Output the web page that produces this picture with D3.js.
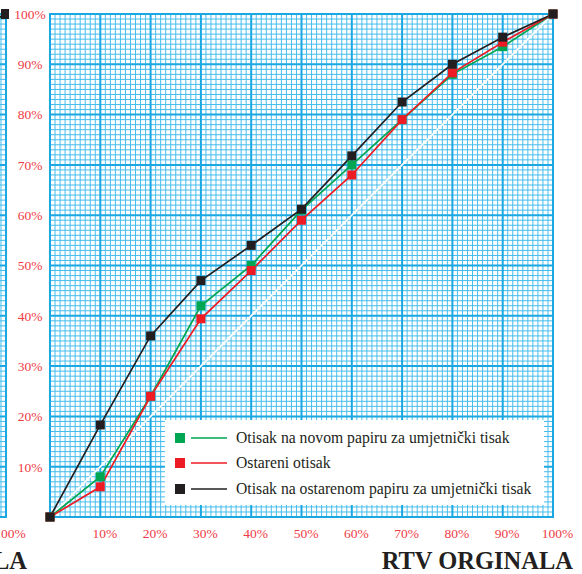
<!DOCTYPE html>
<html><head><meta charset="utf-8">
<script src="https://cdn.jsdelivr.net/npm/d3@7"></script>
<style>
html,body{margin:0;padding:0;background:#fff;}
svg{display:block;}
</style></head>
<body>
<svg id="c" width="582" height="574"></svg>
<script>
const xValues = [0, 10, 20, 30, 40, 50, 60, 70, 80, 90, 100];
const seriesNames = ["Otisak na novom papiru za umjetnički tisak", "Ostareni otisak", "Otisak na ostarenom papiru za umjetnički tisak"];
const greenValues = [0, 8, 24, 42, 50, 61, 70, 79, 88, 93.5, 100];
const redValues   = [0, 6, 24, 39.4, 49, 59, 68, 79, 88.3, 94.4, 100];
const blackValues = [0, 18.3, 36, 47, 54, 61.2, 71.8, 82.5, 90, 95.4, 100];
const seriesColors = ["#00a651", "#ed1c24", "#231f20"];
const tickValues = [10, 20, 30, 40, 50, 60, 70, 80, 90, 100];
const tickLabels = tickValues.map(v => v + "%");
const xAxisTitle = "RTV ORGINALA";

const svg = d3.select("#c");
const X0 = 50, X1 = 553, Y0 = 517, Y1 = 14;
const x = d3.scaleLinear().domain([0, 100]).range([X0, X1]);
const y = d3.scaleLinear().domain([0, 100]).range([Y0, Y1]);
const gridMinor = "#45bdec", gridMajor = "#1ba8e2";
const labelColor = "#ef3b45";
const serif = "'Liberation Serif','Times New Roman',serif";

function drawGrid(g, xs, ys) {
  const steps = d3.range(0, 101, 1);
  g.append("rect").attr("x", xs(0)).attr("y", ys(100))
    .attr("width", xs(100) - xs(0)).attr("height", ys(0) - ys(100)).attr("fill", "#fff");
  g.selectAll(".vm").data(steps.filter(d => d % 10)).join("line")
    .attr("x1", d => xs(d)).attr("x2", d => xs(d)).attr("y1", ys(0)).attr("y2", ys(100))
    .attr("stroke", gridMinor).attr("stroke-width", 1);
  g.selectAll(".hm").data(steps.filter(d => d % 10)).join("line")
    .attr("y1", d => ys(d)).attr("y2", d => ys(d)).attr("x1", xs(0)).attr("x2", xs(100))
    .attr("stroke", gridMinor).attr("stroke-width", 1);
  const maj = steps.filter(d => d % 10 === 0);
  g.selectAll(".vM").data(maj).join("line")
    .attr("x1", d => xs(d)).attr("x2", d => xs(d)).attr("y1", ys(0)).attr("y2", ys(100))
    .attr("stroke", gridMajor).attr("stroke-width", 2);
  g.selectAll(".hM").data(maj).join("line")
    .attr("y1", d => ys(d)).attr("y2", d => ys(d)).attr("x1", xs(0) - 1).attr("x2", xs(100) + 1)
    .attr("stroke", gridMajor).attr("stroke-width", 2);
}

// neighbouring chart fragment at left edge
const nx = d3.scaleLinear().domain([0, 100]).range([6 - (X1 - X0), 6]);
const clip = svg.append("defs").append("clipPath").attr("id", "lc");
clip.append("rect").attr("x", 0).attr("y", 0).attr("width", 9).attr("height", 574);
const ng = svg.append("g").attr("clip-path", "url(#lc)");
drawGrid(ng, nx, y);
const nline = d3.line().x((d, i) => nx(xValues[i])).y(d => y(d));
[greenValues, blackValues].forEach((vals, k) => {
  ng.append("path").datum(vals).attr("d", nline).attr("fill", "none")
    .attr("stroke", k ? seriesColors[2] : seriesColors[0]).attr("stroke-width", 1.6);
});
ng.append("rect").attr("x", nx(100) - 5).attr("y", y(100) - 5).attr("width", 10).attr("height", 10).attr("fill", seriesColors[2]);
svg.append("text").attr("x", nx(100) + 4).attr("y", 538).attr("text-anchor", "middle")
  .attr("font-family", serif).attr("font-size", 13.5).attr("fill", labelColor).text("100%");
svg.append("text").attr("x", 27).attr("y", 569).attr("text-anchor", "end")
  .attr("font-family", serif).attr("font-size", 24.5).attr("font-weight", "bold").attr("fill", "#231f20").text(xAxisTitle);

// main grid
const g = svg.append("g");
drawGrid(g, x, y);

// diagonal reference
g.append("line").attr("x1", x(0)).attr("y1", y(0)).attr("x2", x(100)).attr("y2", y(100))
  .attr("stroke", "#fff").attr("stroke-width", 1.6);

// series
const allSeries = [greenValues, redValues, blackValues];
const line = d3.line().x((d, i) => x(xValues[i])).y(d => y(d));
allSeries.forEach((vals, k) => {
  g.append("path").datum(vals).attr("d", line).attr("fill", "none")
    .attr("stroke", seriesColors[k]).attr("stroke-width", 1.7);
});
allSeries.forEach((vals, k) => {
  g.selectAll(".m" + k).data(vals).join("rect")
    .attr("x", (d, i) => x(xValues[i]) - 4.5).attr("y", d => y(d) - 4.5)
    .attr("width", 9).attr("height", 9).attr("fill", seriesColors[k]);
});

// axes labels
const yAxis = d3.axisLeft(y).tickValues(tickValues).tickFormat((d, i) => tickLabels[i]).tickSize(0);
const ya = svg.append("g").attr("transform", "translate(30,0)").call(yAxis);
ya.select(".domain").remove();
ya.selectAll("text").attr("x", 0).attr("dy", "0.32em").attr("text-anchor", "middle")
  .attr("font-family", serif).attr("font-size", 13.5).attr("fill", labelColor);

const xAxis = d3.axisBottom(x).tickValues(tickValues).tickFormat((d, i) => tickLabels[i]).tickSize(0);
const xa = svg.append("g").attr("transform", "translate(4,0)").call(xAxis);
xa.select(".domain").remove();
xa.selectAll("text").attr("y", 538).attr("dy", 0).attr("text-anchor", "middle")
  .attr("font-family", serif).attr("font-size", 13.5).attr("fill", labelColor);

svg.append("text").attr("x", 573).attr("y", 569).attr("text-anchor", "end")
  .attr("font-family", serif).attr("font-size", 24.5).attr("font-weight", "bold").attr("fill", "#231f20").text(xAxisTitle);

// legend
const lg = svg.append("g");
lg.append("rect").attr("x", 165).attr("y", 420).attr("width", 379).attr("height", 85).attr("fill", "#fff");
const ly = [438, 463, 489];
seriesNames.forEach((name, k) => {
  lg.append("rect").attr("x", 175).attr("y", ly[k] - 5).attr("width", 10).attr("height", 10).attr("fill", seriesColors[k]);
  lg.append("line").attr("x1", 191).attr("x2", 227).attr("y1", ly[k]).attr("y2", ly[k])
    .attr("stroke", seriesColors[k]).attr("stroke-width", 1.5);
  lg.append("text").attr("x", 236).attr("y", ly[k] + 5).attr("font-family", serif)
    .attr("font-size", 15.7).attr("fill", "#231f20").text(name);
});
</script>
</body></html>
